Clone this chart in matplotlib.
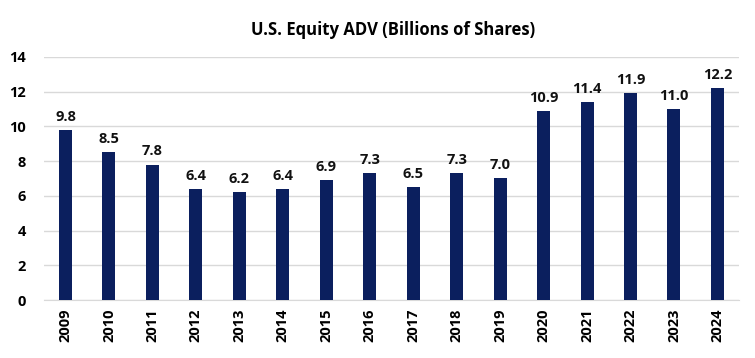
import numpy as np
import matplotlib.pyplot as plt

years = ['2009', '2010', '2011', '2012', '2013', '2014', '2015', '2016',
         '2017', '2018', '2019', '2020', '2021', '2022', '2023', '2024']
adv = [9.8, 8.5, 7.8, 6.4, 6.2, 6.4, 6.9, 7.3, 6.5, 7.3, 7.0,
       10.9, 11.4, 11.9, 11.0, 12.2]

plt.rcParams['font.family'] = ['Open Sans', 'DejaVu Sans']

fig = plt.figure(figsize=(7.55, 3.58), dpi=100)
ax = fig.add_axes([0.058, 0.162, 0.921, 0.679])

x = np.arange(len(years))
bars = ax.bar(x, adv, width=0.3, color='#0b1f5e', zorder=3)

for xi, v in zip(x, adv):
    ax.text(xi, v + 0.35, f'{v:.1f}', ha='center', va='bottom',
            fontsize=10.5, fontweight='bold', color='#111111')

ax.set_xlim(-0.5, len(years) - 0.5)
ax.set_ylim(0, 14)
ax.set_yticks(range(0, 15, 2))
ax.set_xticks(x)
ax.set_xticklabels(years, rotation=90, fontsize=10.5, fontweight='bold')
ax.tick_params(axis='y', labelsize=10.5, length=0, pad=13)
ax.tick_params(axis='x', length=0, pad=6)
for lbl in ax.get_yticklabels():
    lbl.set_fontweight('bold')

ax.grid(axis='y', color='#d9d9d9', linewidth=1, zorder=0)
for side in ['top', 'right', 'left']:
    ax.spines[side].set_visible(False)
ax.spines['bottom'].set_color('#d9d9d9')

fig.suptitle('U.S. Equity ADV (Billions of Shares)', fontsize=12,
             fontweight='bold', y=0.94, x=0.52)

fig.savefig('out.png', dpi=100)
